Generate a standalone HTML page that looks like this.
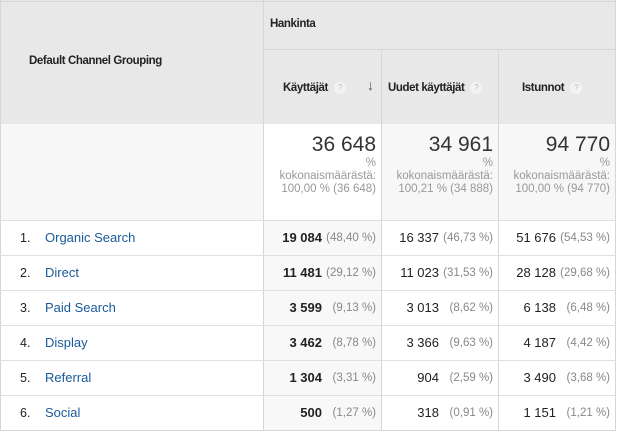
<!DOCTYPE html>
<html><head><meta charset="utf-8"><style>
*{margin:0;padding:0;box-sizing:border-box}
body{width:620px;height:435px;background:#fff;font-family:"Liberation Sans",sans-serif;position:relative;overflow:hidden;color:#222}
.a{position:absolute}
.hd{background:#e8e8e8}
.b{font-weight:bold;font-size:11.5px;color:#222;letter-spacing:-0.4px}
.q{display:inline-block;width:12px;height:12px;border-radius:6px;background:#f3f3f3;color:#bbb;font-size:8px;text-align:center;line-height:12px;font-weight:normal;margin-left:6px;vertical-align:middle}
.vl{position:absolute;width:1px;background:#d6d6d6}
.hl{position:absolute;height:1px;background:#e0e0e0;left:0;width:616px}
.big{font-size:21px;color:#333;text-align:right}
.sub{font-size:11.5px;color:#999;text-align:right;line-height:13px}
.lbl{font-size:13px;color:#1a5a9a}
.idx{font-size:12.5px;color:#222}
.num{font-size:13px;text-align:right}
.pct{font-size:11.5px;color:#888;text-align:right}
</style></head><body>
<div class="a hd" style="left:0;top:0;width:263px;height:124px"></div>
<div class="a hd" style="left:263px;top:0;width:353px;height:124px"></div>
<div class="hl" style="top:1px;background:#d6d6d6"></div>
<div class="hl" style="top:49px;left:263px;width:353px;background:#d6d6d6"></div>
<div class="a b" style="left:29px;top:55px">Default Channel Grouping</div>
<div class="a b" style="left:270px;top:18px">Hankinta</div>
<div class="a b" style="left:283px;top:82px">Käyttäjät<span class="q">?</span></div>
<div class="a" style="left:367px;top:77px;font-size:14px;color:#555">↓</div>
<div class="a b" style="left:388px;top:82px">Uudet käyttäjät<span class="q">?</span></div>
<div class="a b" style="left:522px;top:82px">Istunnot<span class="q">?</span></div>
<div class="a" style="left:0;top:124px;width:263px;height:96px;background:#f7f7f7"></div>
<div class="a" style="left:381px;top:124px;width:235px;height:96px;background:#f7f7f7"></div>
<div class="a" style="left:263px;top:220px;width:118px;height:211px;background:#f8f8f8"></div>
<div class="vl" style="left:263px;top:0;height:431px"></div>
<div class="vl" style="left:381px;top:49px;height:382px"></div>
<div class="vl" style="left:498px;top:49px;height:382px"></div>
<div class="vl" style="left:615px;top:0;height:431px"></div>
<div class="vl" style="left:0;top:0;height:431px"></div>
<div class="hl" style="top:220px"></div>
<script>
const totals=["36 648","34 961","94 770"];
const totalSub=["100,00 % (36 648)","100,21 % (34 888)","100,00 % (94 770)"];
const channels=["Organic Search","Direct","Paid Search","Display","Referral","Social"];
const users=["19 084","11 481","3 599","3 462","1 304","500"];
const usersPct=["(48,40 %)","(29,12 %)","(9,13 %)","(8,78 %)","(3,31 %)","(1,27 %)"];
const newUsers=["16 337","11 023","3 013","3 366","904","318"];
const newUsersPct=["(46,73 %)","(31,53 %)","(8,62 %)","(9,63 %)","(2,59 %)","(0,91 %)"];
const sessions=["51 676","28 128","6 138","4 187","3 490","1 151"];
const sessionsPct=["(54,53 %)","(29,68 %)","(6,48 %)","(4,42 %)","(3,68 %)","(1,21 %)"];
const colRight=[376,493,610];
function mk(html,style,name,inter){const d=document.createElement('div');d.className='a';d.innerHTML=html;d.style.cssText=style;


document.body.appendChild(d);return d;}
totals.forEach((t,i)=>{
 const r=colRight[i];
 const b=mk(t,`left:${r-110}px;top:133px;width:110px`,'total-value','');b.classList.add('big');
 const s=mk('%<br>kokonaismäärästä:<br>'+totalSub[i],`left:${r-118}px;top:157px;width:118px`,'total-share','');s.classList.add('sub');
});
const cols=[[users,usersPct,true],[newUsers,newUsersPct,false],[sessions,sessionsPct,false]];
channels.forEach((c,j)=>{
 const y=220+j*35;
 const ln=document.createElement('div');ln.className='hl';ln.style.top=(y+35)+'px';
 
 
 document.body.appendChild(ln);
 mk((j+1)+'.',`left:20px;top:${y+11}px`,'row-index','').classList.add('idx');
 mk(c,`left:45px;top:${y+10}px`,'channel-link',true).classList.add('lbl');
 cols.forEach((col,i)=>{
  const r=colRight[i];
  const p=mk(col[1][j],`left:${r-58}px;top:${y+12}px;width:58px`,'percent-share','');p.classList.add('pct');
  const n=mk(col[0][j],`left:${r-135}px;top:${y+10}px;width:81px;${col[2]?'font-weight:bold':''}`,'metric-value','');n.classList.add('num');
 });
});
</script>
<div class="hl" style="top:430px;background:#d6d6d6"></div>
</body></html>
